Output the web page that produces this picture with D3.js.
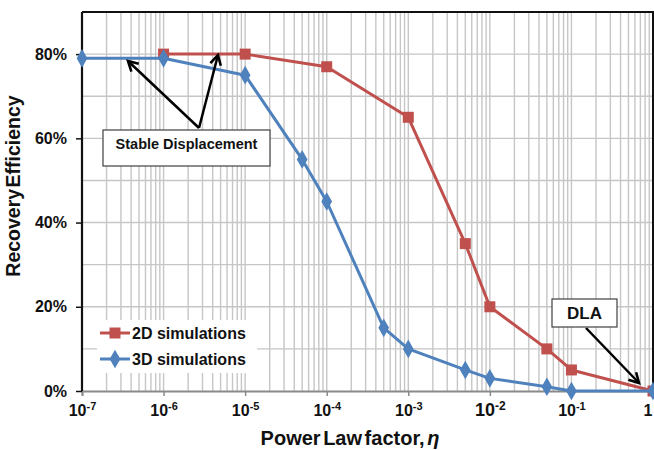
<!DOCTYPE html>
<html>
<head>
<meta charset="utf-8">
<script src="https://cdn.jsdelivr.net/npm/d3@7"></script>
<style>
  html, body { margin: 0; padding: 0; background: #fff; }
  svg { display: block; font-family: "Liberation Sans", Arial, sans-serif; }
</style>
</head>
<body>
<svg id="chart" width="654" height="450"></svg>
<script>
// Recovery efficiency vs. power-law factor for 2D and 3D simulations
const eta2D = [1e-6, 1e-5, 1e-4, 1e-3, 5e-3, 1e-2, 5e-2, 1e-1, 1];
const eff2D = [0.80, 0.80, 0.77, 0.65, 0.35, 0.20, 0.10, 0.05, 0.00];
const eta3D = [1e-7, 1e-6, 1e-5, 5e-5, 1e-4, 5e-4, 1e-3, 5e-3, 1e-2, 5e-2, 1e-1, 1];
const eff3D = [0.79, 0.79, 0.75, 0.55, 0.45, 0.15, 0.10, 0.05, 0.03, 0.01, 0.00, 0.00];
const xTickExp = [-7, -6, -5, -4, -3, -2, -1, 0];
const yTicks = [0, 0.2, 0.4, 0.6, 0.8];
const seriesNames = ["2D simulations", "3D simulations"];

const W = 654, H = 450;
const margin = { top: 12, right: 1, bottom: 59, left: 82 };
const svg = d3.select("#chart");
const x = d3.scaleLog().domain([1e-7, 1]).range([margin.left, W - margin.right]);
const y = d3.scaleLinear().domain([0, 0.9]).range([H - margin.bottom, margin.top]);

const red = "#C0504D", blue = "#4F81BD", grid = "#c6c6c6";

// grid: every 1..9 x decade vertically, every 10% horizontally
const minorX = [];
for (let e = -7; e < 0; e++) for (let m = 1; m < 10; m++) minorX.push(m * Math.pow(10, e));
minorX.push(1);
svg.append("g").selectAll("line").data(minorX).join("line")
  .attr("x1", d => x(d)).attr("x2", d => x(d))
  .attr("y1", y(0)).attr("y2", y(0.9))
  .attr("stroke", grid).attr("stroke-width", 1.4);
svg.append("g").selectAll("line").data(d3.range(1, 10).map(d => d / 10)).join("line")
  .attr("x1", x(1e-7)).attr("x2", x(1))
  .attr("y1", d => y(d)).attr("y2", d => y(d))
  .attr("stroke", grid).attr("stroke-width", 1.4);

// frame: top and right borders
svg.append("path")
  .attr("d", `M${x(1e-7)},${y(0.9)}H${x(1)}V${y(0)}`)
  .attr("fill", "none").attr("stroke", "#111").attr("stroke-width", 2);

// x axis (gray)
const xAxis = d3.axisBottom(x).tickValues(xTickExp.map(e => Math.pow(10, e)))
  .tickSize(5).tickFormat("");
const gx = svg.append("g").attr("transform", `translate(0,${y(0)})`).call(xAxis);
gx.select(".domain").attr("stroke", "#8a8a8a").attr("stroke-width", 2);
gx.selectAll(".tick line").attr("stroke", "#8a8a8a").attr("stroke-width", 1.5);
gx.selectAll(".tick").each(function(d, i) {
  const e = xTickExp[i];
  const t = d3.select(this).append("text")
    .attr("y", 25).attr("text-anchor", e === 0 ? "end" : "middle")
    .attr("fill", "#111").attr("font-weight", "bold")
    .attr("font-size", e === -2 ? 18 : 16);
  if (e === 0) { t.attr("x", -1).text("1"); return; }
  t.append("tspan").text("10");
  t.append("tspan").attr("dy", -6).attr("font-size", e === -2 ? 12 : 11).text(String(e));
});

// y axis (black)
const yAxis = d3.axisLeft(y).tickValues(yTicks).tickSize(6).tickPadding(9)
  .tickFormat(d3.format(".0%"));
const gy = svg.append("g").attr("transform", `translate(${x(1e-7)},0)`).call(yAxis);
gy.select(".domain").attr("stroke", "#111").attr("stroke-width", 2.2).attr("d", `M0,${y(0)}V${y(0.9)}`);
gy.selectAll(".tick line").attr("stroke", "#111").attr("stroke-width", 1.5);
gy.selectAll(".tick text").attr("font-size", 16).attr("font-weight", "bold")
  .attr("fill", "#111").attr("font-family", "Liberation Sans, Arial, sans-serif");

// axis titles
svg.append("text")
  .attr("transform", `translate(20,186) rotate(-90)`)
  .attr("text-anchor", "middle").attr("font-size", 19.5).attr("font-weight", "bold")
  .attr("word-spacing", -4).attr("fill", "#111")
  .text("Recovery Efficiency");
const xt = svg.append("text")
  .attr("x", 350).attr("y", 445)
  .attr("text-anchor", "middle").attr("font-size", 20).attr("font-weight", "bold")
  .attr("word-spacing", -3).attr("fill", "#111");
xt.append("tspan").text("Power Law factor, ");
xt.append("tspan").attr("font-style", "italic").text("η");

// series
const line = d3.line().x(d => x(d[0])).y(d => y(d[1]));
const pts2D = eta2D.map((e, i) => [e, eff2D[i]]);
const pts3D = eta3D.map((e, i) => [e, eff3D[i]]);
const sq = d3.symbol().type(d3.symbolSquare).size(121);
const dia = d3.symbol().type(d3.symbolDiamond).size(100);

svg.append("path").datum(pts2D).attr("d", line)
  .attr("fill", "none").attr("stroke", red).attr("stroke-width", 3).attr("stroke-linejoin", "round");
svg.append("g").selectAll("path").data(pts2D).join("path")
  .attr("transform", d => `translate(${x(d[0])},${y(d[1])})`)
  .attr("d", sq).attr("fill", red);

svg.append("path").datum(pts3D).attr("d", line)
  .attr("fill", "none").attr("stroke", blue).attr("stroke-width", 3).attr("stroke-linejoin", "round");
svg.append("g").selectAll("path").data(pts3D).join("path")
  .attr("transform", d => `translate(${x(d[0])},${y(d[1])})`)
  .attr("d", dia).attr("fill", blue);

// legend
const lg = svg.append("g").attr("transform", "translate(97,320)");
lg.append("rect").attr("width", 160).attr("height", 53).attr("fill", "#fff");
[[red, sq], [blue, dia]].forEach(([c, sym], i) => {
  const row = lg.append("g").attr("transform", `translate(0,${13 + i * 26})`);
  row.append("line").attr("x1", 3).attr("x2", 33).attr("stroke", c).attr("stroke-width", 3);
  row.append("path").attr("transform", "translate(18,0)").attr("d", sym).attr("fill", c);
  row.append("text").attr("x", 35).attr("y", 6).attr("font-size", 16).attr("font-weight", "bold")
    .attr("fill", "#111").text(seriesNames[i]);
});

// annotations with arrows
const defs = svg.append("defs");
defs.append("marker").attr("id", "arrow")
  .attr("viewBox", "0 0 12 12").attr("refX", 10).attr("refY", 6)
  .attr("markerWidth", 13).attr("markerHeight", 13)
  .attr("markerUnits", "userSpaceOnUse").attr("orient", "auto")
  .append("path").attr("d", "M1,1 L10,6 L1,11")
  .attr("fill", "none").attr("stroke", "#000").attr("stroke-width", 2.4);

function arrow(x1, y1, x2, y2) {
  svg.append("line").attr("x1", x1).attr("y1", y1).attr("x2", x2).attr("y2", y2)
    .attr("stroke", "#000").attr("stroke-width", 2.5).attr("marker-end", "url(#arrow)");
}
arrow(199, 128, 128, 61);
arrow(199, 128, 218, 55);
arrow(586, 328, 639, 383);

function box(x0, y0, w, h, txt, fs, ty) {
  svg.append("rect").attr("x", x0).attr("y", y0).attr("width", w).attr("height", h)
    .attr("fill", "#fff").attr("stroke", "#404040").attr("stroke-width", 1.2);
  svg.append("text").attr("x", x0 + w / 2).attr("y", ty).attr("text-anchor", "middle")
    .attr("font-size", fs).attr("font-weight", "bold").attr("fill", "#111").text(txt);
}
box(103, 130, 167, 36, "Stable Displacement", 14.5, 149);
box(552, 299, 65, 28, "DLA", 17, 319);
</script>
</body>
</html>
